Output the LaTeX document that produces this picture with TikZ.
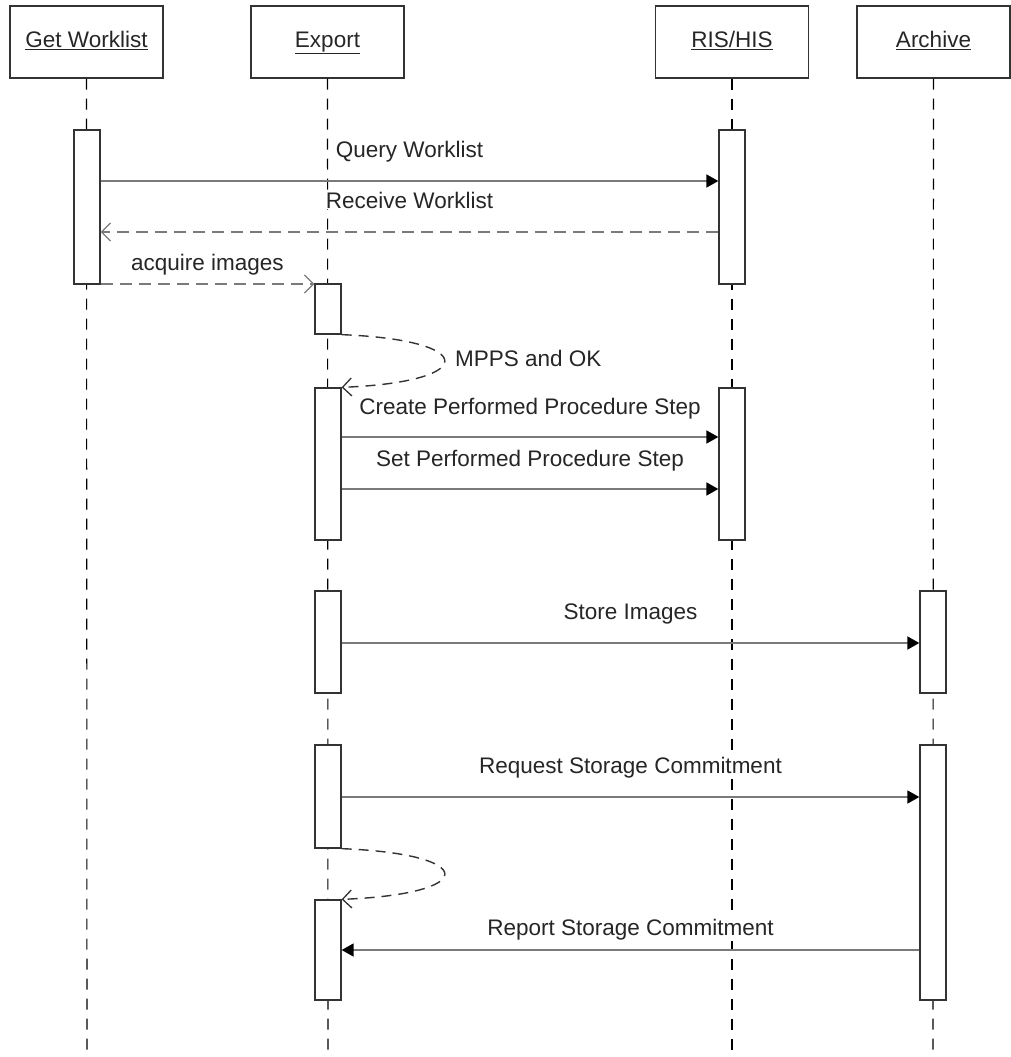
\documentclass[tikz,border=0pt]{standalone}
\usepackage{fontspec}
\setmainfont{Liberation Sans}
\usetikzlibrary{arrows.meta}
\definecolor{boxc}{HTML}{333333}
\definecolor{msgc}{HTML}{7A7A7A}
\definecolor{txt}{HTML}{262626}
\begin{document}
\begin{tikzpicture}[x=1pt,y=-1pt,
  hdr/.style={draw=boxc, line width=1.4pt, minimum width=153pt, minimum height=72pt, inner sep=0pt, text height=17pt, text depth=6pt, font=\fontsize{22.5}{26}\selectfont, text=txt},
  act/.style={draw=boxc, fill=white, line width=1.3pt, minimum width=26pt, inner sep=0pt},
  life/.style={draw=black, line width=1.1pt, dash pattern=on 11pt off 9pt},
  msg/.style={draw=msgc, line width=1.7pt},
  syncmsg/.style={msg, -{Triangle[length=12pt,width=13pt,color=black]}},
  retmsg/.style={msg, dash pattern=on 12pt off 7pt, -{Straight Barb[length=9pt,width=18pt,line width=1.3pt]}},
  loopmsg/.style={draw=boxc, line width=1.4pt, dash pattern=on 10pt off 7pt, -{Straight Barb[length=9pt,width=18pt,line width=1.3pt]}},
  lbl/.style={font=\fontsize{22.5}{26}\selectfont, text=txt, inner sep=1pt, fill=white}
]
\useasboundingbox (0,0) rectangle (1011,1057);
% headers
\node[hdr] (gw) at (86.5,42) {\underline{Get Worklist}};
\node[hdr] (ex) at (327.5,42) {\underline{Export}};
\node[hdr] (ris) at (732,42) {\underline{RIS/HIS}};
\node[hdr] (ar) at (933.5,42) {\underline{Archive}};
% lifelines
\coordinate (gwend) at (87,1057);
\coordinate (exend) at (328,1057);
\coordinate (risend) at (732,1057);
\coordinate (arend) at (933,1057);
\draw[life] (gw.south) -- (gwend);
\draw[life] (ex.south) -- (exend);
\draw[life] (ris.south) -- (risend);
\draw[life] (ar.south) -- (arend);
% activations
\node[act, minimum height=154pt] (gw1) at (87,207) {};
\node[act, minimum height=154pt] (r1) at (732,207) {};
\node[act, minimum height=50pt] (ex1) at (328,309) {};
\node[act, minimum height=152pt] (ex2) at (328,464) {};
\node[act, minimum height=152pt] (r2) at (732,464) {};
\node[act, minimum height=102pt] (ex3) at (328,642) {};
\node[act, minimum height=102pt] (a1) at (933,642) {};
\node[act, minimum height=103pt] (ex4) at (328,796.5) {};
\node[act, minimum height=255pt] (a2) at (933,872.5) {};
\node[act, minimum height=100pt] (ex5) at (328,950) {};
% messages
\draw[syncmsg] (gw1.east |- 0,181) -- node[lbl, midway, anchor=base, yshift=24pt] (l1) {Query Worklist} (r1.west |- 0,181);
\draw[retmsg] (r1.west |- 0,232) -- node[lbl, midway, anchor=base, yshift=24pt] (l2) {Receive Worklist} (gw1.east |- 0,232);
\draw[retmsg] (gw1.east |- 0,284) -- node[lbl, midway, anchor=base, yshift=14pt] (l3) {acquire images} (ex1.west |- 0,284);
\draw[loopmsg] (ex1.south east) .. controls (479,340) and (479,382) .. (ex2.north east);
\node[lbl, anchor=base west] (l4) at (454,366) {MPPS and OK};
\draw[syncmsg] (ex2.east |- 0,437) -- node[lbl, midway, anchor=base, yshift=23pt] (l5) {Create Performed Procedure Step} (r2.west |- 0,437);
\draw[syncmsg] (ex2.east |- 0,489) -- node[lbl, midway, anchor=base, yshift=23pt] (l6) {Set Performed Procedure Step} (r2.west |- 0,489);
\draw[syncmsg] (ex3.east |- 0,643) -- node[lbl, midway, anchor=base, yshift=24pt] (l7) {Store Images} (a1.west |- 0,643);
\draw[syncmsg] (ex4.east |- 0,797) -- node[lbl, midway, anchor=base, yshift=24pt] (l8) {Request Storage Commitment} (a2.west |- 0,797);
\draw[loopmsg] (ex4.south east) .. controls (479,854) and (479,894) .. (ex5.north east);
\draw[syncmsg] (a2.west |- 0,950) -- node[lbl, midway, anchor=base, yshift=15pt] (l9) {Report Storage Commitment} (ex5.east |- 0,950);
\end{tikzpicture}
\end{document}
